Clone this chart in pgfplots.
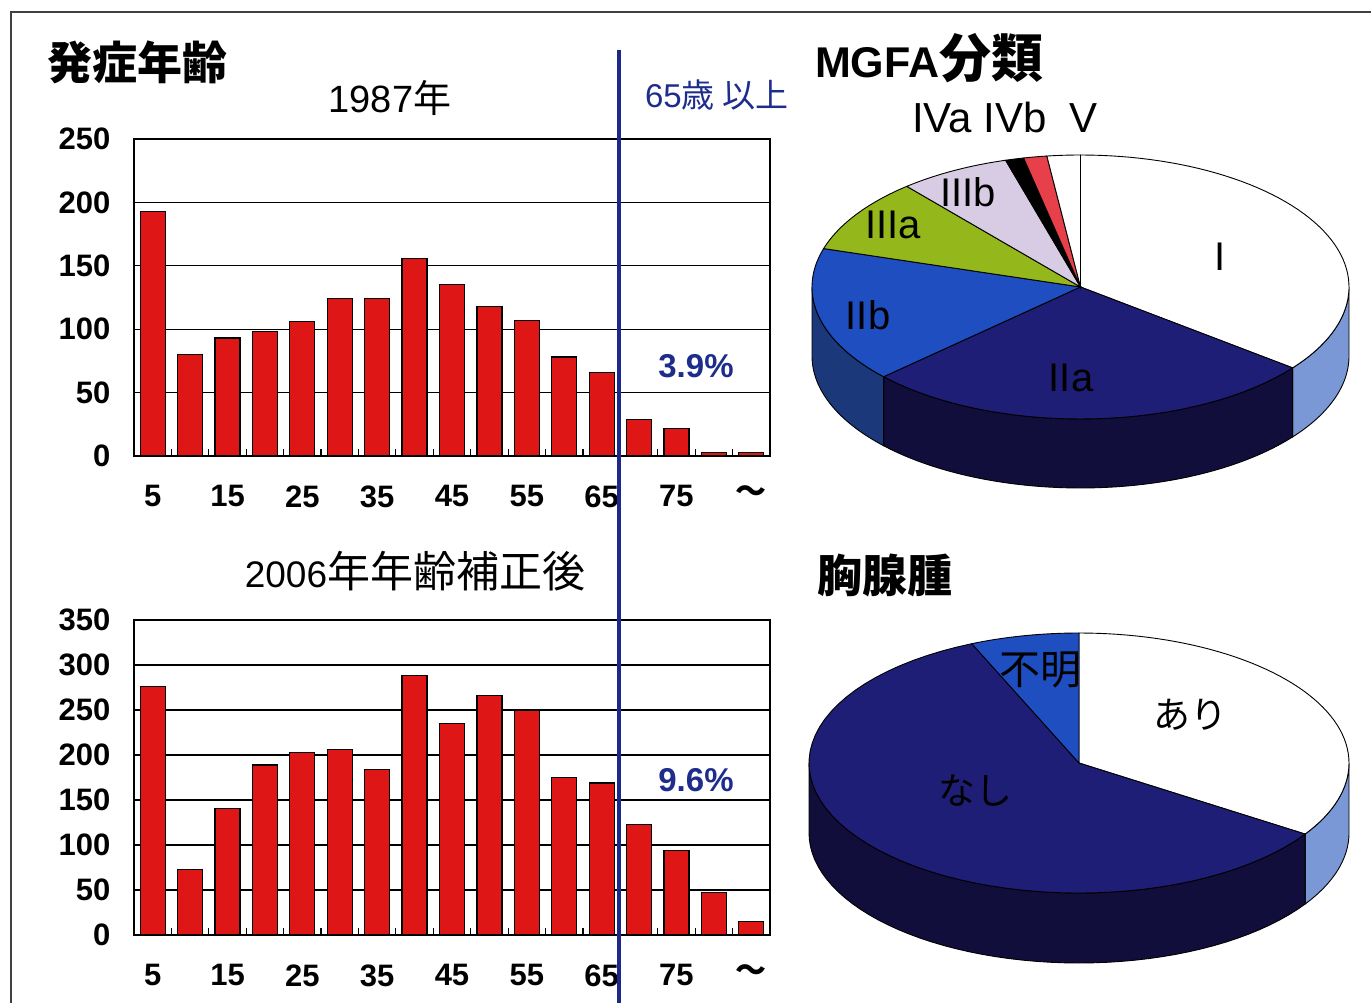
\documentclass[border=0pt]{standalone}
\usepackage{pgfplots}
\pgfplotsset{compat=1.18}
\usepackage{fontspec}
\setmainfont{Liberation Sans}
\newfontfamily\jp{Noto Sans CJK JP}

\definecolor{barred}{RGB}{222,22,22}
\definecolor{lineblue}{RGB}{28,40,140}
\definecolor{txtblue}{RGB}{30,45,140}
\definecolor{navy}{RGB}{30,30,118}
\definecolor{navyside}{RGB}{18,14,60}
\definecolor{royal}{RGB}{30,78,192}
\definecolor{royalside}{RGB}{26,56,122}
\definecolor{lightside}{RGB}{122,152,214}
\definecolor{olive}{RGB}{148,184,28}
\definecolor{lavender}{RGB}{216,204,228}
\definecolor{pinkred}{RGB}{232,64,74}

% MGFA classes, share in %, clockwise from twelve o'clock
\def\mI{35.5}\def\mIIa{27.6}\def\mIIb{16.6}\def\mIIIa{9.1}
\def\mIIIb{6.7}\def\mIVa{1.1}\def\mIVb{1.4}\def\mV{2.0}
% thymoma: present / absent / unknown, share in %
\def\tAri{34.2}\def\tNashi{59.3}\def\tFumei{6.5}

% top face of a pie slice (angles in degrees)
\newcommand{\slicetop}[3]{%
  \filldraw[fill=#3, draw=black, line width=0.9pt]
    (0,0) -- plot[domain=#1:#2, samples=60, variable=\t] ({cos(\t)},{sin(\t)}) -- cycle;}
% outer wall of a slice on the front half
\newcommand{\sliceside}[4]{%
  \filldraw[fill=#4, draw=black, line width=0.9pt]
    plot[domain=#1:#2, samples=50, variable=\t] ({cos(\t)},{sin(\t)})
    -- plot[domain=#2:#1, samples=50, variable=\t] ({cos(\t)},{sin(\t)-#3}) -- cycle;}

\tikzset{lbl/.style={inner sep=0pt, outer sep=0pt}}
\pgfplotsset{
  agebars/.style={
    ybar, bar width=25pt,
    anchor=north west, scale only axis, width=636pt,
    xmin=-0.5, xmax=16.5, ymin=0,
    xtick={0,2,...,16},
    xticklabels={5,15,25,35,45,55,65,75,{\jp\bfseries 〜}},
    minor xtick={0.5,1.5,...,15.5},
    xtick pos=bottom, ytick pos=left,
    major tick length=0pt, minor tick length=7pt,
    tick align=inside,
    tick style={black, line width=1.2pt},
    ymajorgrids, grid style={black, line width=1.2pt},
    axis line style={black, line width=1.5pt},
    ticklabel style={font=\fontsize{31}{31}\selectfont\bfseries},
    /pgf/number format/assume math mode=true,
    yticklabel style={xshift=-20pt},
    xticklabel style={yshift=-26pt},
  },
  pieaxis/.style={
    anchor=north west, scale only axis, hide axis, clip=false,
    xmin=-1, xmax=1, ymax=1,
  },
}

\begin{document}
\begin{tikzpicture}
\useasboundingbox (0pt,0pt) rectangle (1371pt,-1003pt);
\fill[white] (0pt,0pt) rectangle (1371pt,-1003pt);

% cumulative angles, clockwise from 90 degrees
\pgfmathsetmacro\ma{90-3.6*\mI}
\pgfmathsetmacro\mb{\ma-3.6*\mIIa}
\pgfmathsetmacro\mc{\mb-3.6*\mIIb}
\pgfmathsetmacro\md{\mc-3.6*\mIIIa}
\pgfmathsetmacro\me{\md-3.6*\mIIIb}
\pgfmathsetmacro\mf{\me-3.6*\mIVa}
\pgfmathsetmacro\mg{\mf-3.6*\mIVb}
\pgfmathsetmacro\mh{\mg-3.6*\mV}
\pgfmathsetmacro\ta{90-3.6*\tAri}
\pgfmathsetmacro\tb{\ta-3.6*\tNashi}
\pgfmathsetmacro\tc{\tb-3.6*\tFumei}

% frame
\draw[line width=2pt, black!75] (11pt,-1003pt) -- (11pt,-12pt) -- (1371pt,-12pt);

% onset age, 1987
\begin{axis}[agebars, at={(134pt,-139pt)}, height=317pt,
  ymax=250, ytick={0,50,...,250}]
\addplot[fill=barred, draw=black, line width=1.2pt] coordinates {
  (0,193) (1,80) (2,93) (3,98) (4,106) (5,124) (6,124) (7,156) (8,135)
  (9,118) (10,107) (11,78) (12,66) (13,29) (14,22) (15,3) (16,3)};
\end{axis}

% onset age, 2006 (age adjusted)
\begin{axis}[agebars, at={(134pt,-620pt)}, height=315pt,
  ymax=350, ytick={0,50,...,350}]
\addplot[fill=barred, draw=black, line width=1.2pt] coordinates {
  (0,276) (1,73) (2,141) (3,189) (4,203) (5,206) (6,184) (7,288) (8,235)
  (9,266) (10,250) (11,175) (12,169) (13,123) (14,94) (15,47) (16,15)};
\end{axis}

% MGFA pie
\begin{axis}[pieaxis, at={(812pt,-155pt)}, width=537pt, height=333pt, ymin=-1.523]
\sliceside{0}{\ma}{0.523}{lightside}
\sliceside{\ma}{\mb}{0.523}{navyside}
\sliceside{\mb}{-180}{0.523}{royalside}
\slicetop{\ma}{90}{white}
\slicetop{\mb}{\ma}{navy}
\slicetop{\mc}{\mb}{royal}
\slicetop{\md}{\mc}{olive}
\slicetop{\me}{\md}{lavender}
\slicetop{\mf}{\me}{black}
\slicetop{\mg}{\mf}{pinkred}
\slicetop{\mh}{\mg}{white}
\end{axis}

% thymoma pie
\begin{axis}[pieaxis, at={(809pt,-633pt)}, width=540pt, height=330pt, ymin=-1.538]
\sliceside{0}{\ta}{0.538}{lightside}
\sliceside{\ta}{-180}{0.538}{navyside}
\slicetop{\ta}{90}{white}
\slicetop{\tb}{\ta}{navy}
\slicetop{\tc}{\tb}{royal}
\end{axis}

% 65 and over divider
\draw[lineblue, line width=4pt] (619pt,-50pt) -- (619pt,-1003pt);

% titles and labels
\node[lbl, anchor=west, font=\jp\bfseries\fontsize{45}{45}\selectfont] at (47pt,-62pt) {発症年齢};
\node[lbl, font=\fontsize{38}{38}\selectfont] at (390pt,-98pt) {1987{\jp 年}};
\node[lbl, font=\fontsize{37}{37}\selectfont] at (415pt,-571pt) {2006{\jp\fontsize{43}{43}\selectfont 年年齢補正後}};
\node[lbl, anchor=west, text=txtblue, font=\fontsize{33}{33}\selectfont] at (645pt,-95pt) {65{\jp 歳 以上}};
\node[lbl, text=txtblue, font=\bfseries\fontsize{33}{33}\selectfont] at (696pt,-366pt) {3.9\%};
\node[lbl, text=txtblue, font=\bfseries\fontsize{33}{33}\selectfont] at (696pt,-780pt) {9.6\%};

\node[lbl, anchor=west, font=\bfseries\fontsize{43}{43}\selectfont] at (815pt,-58pt) {MGFA{\jp\fontsize{52}{52}\selectfont 分類}};
\node[lbl, font=\fontsize{42}{42}\selectfont] at (1005pt,-117pt) {IVa IVb\ \ V};
\node[lbl, font=\fontsize{40}{40}\selectfont] at (1220pt,-257pt) {I};
\node[lbl, font=\fontsize{40}{40}\selectfont] at (1071pt,-378pt) {IIa};
\node[lbl, font=\fontsize{40}{40}\selectfont] at (868pt,-315pt) {IIb};
\node[lbl, font=\fontsize{40}{40}\selectfont] at (893pt,-225pt) {IIIa};
\node[lbl, font=\fontsize{40}{40}\selectfont] at (968pt,-192pt) {IIIb};

\node[lbl, anchor=west, font=\jp\bfseries\fontsize{45}{45}\selectfont] at (817pt,-575pt) {胸腺腫};
\node[lbl, font=\jp\fontsize{41}{41}\selectfont] at (1040pt,-670pt) {不明};
\node[lbl, font=\jp\fontsize{37}{37}\selectfont] at (1190pt,-715pt) {あり};
\node[lbl, font=\jp\fontsize{37}{37}\selectfont] at (975pt,-791pt) {なし};
\end{tikzpicture}
\end{document}
